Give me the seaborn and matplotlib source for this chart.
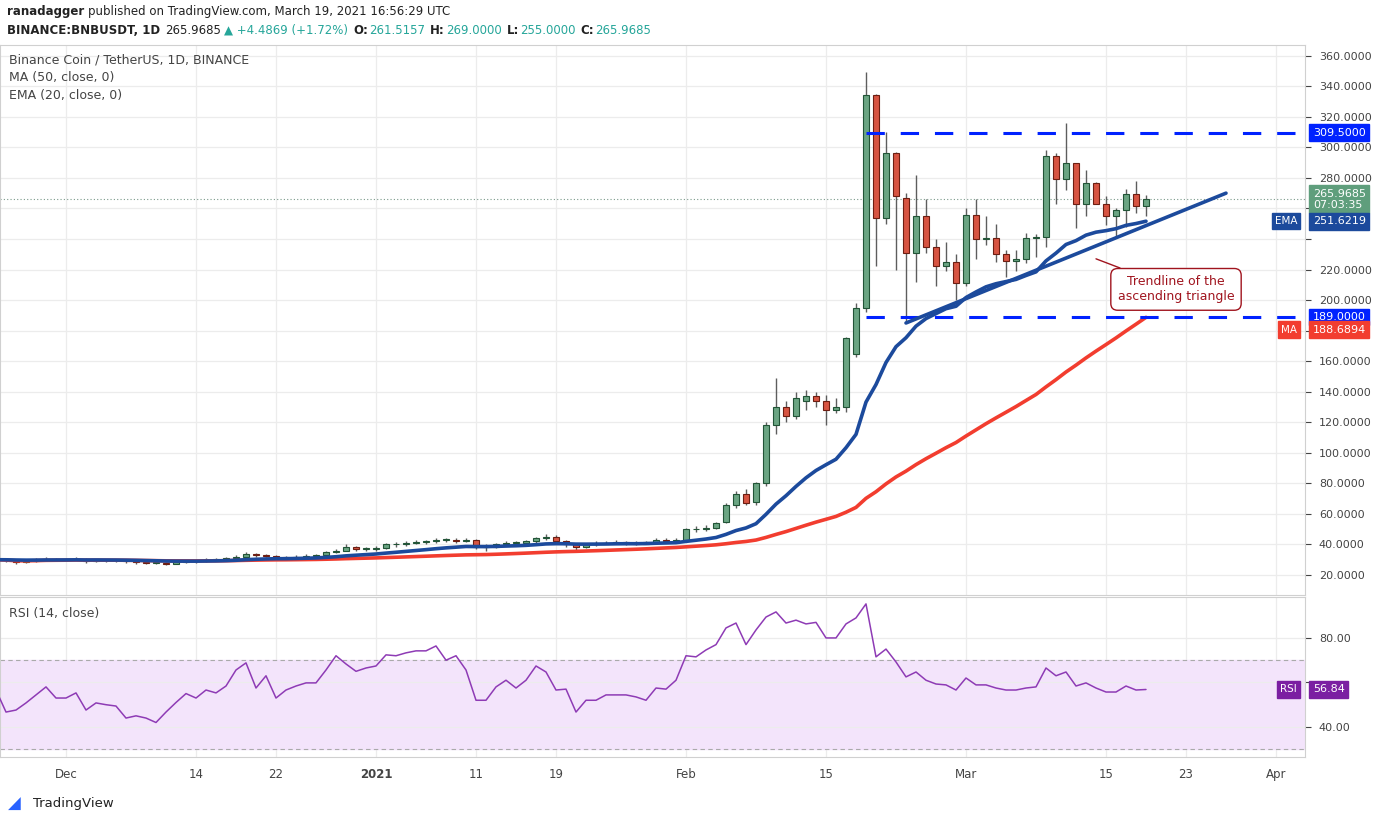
import numpy as np
import pandas as pd
import matplotlib
matplotlib.use("Agg")
import matplotlib.pyplot as plt
import matplotlib.dates as mdates
import seaborn as sns

sns.set_style("white")
plt.rcParams['font.family'] = ['DejaVu Sans']

# ---------------- data ----------------
start_date = "2020-11-24"
opens = [30, 30, 29.5, 28.5, 29, 30, 30.5,
         30, 30, 30.5, 29, 30, 29.5, 29.5, 29, 28.5, 28, 28, 27.5, 28.5, 29, 29, 30, 30, 31, 32, 33.5, 33, 32.5, 32, 31, 32, 32.5, 33, 35, 36, 38, 37,
         37, 37.5, 40, 40, 41, 41.5, 42, 43, 43, 42.5, 43, 38, 38.5, 40, 41, 41, 42, 44, 45, 42, 40, 38, 40, 40.5, 41, 41.5, 41, 40.5, 41.5, 43, 42.5,
         43, 50, 50, 51, 55, 66, 73, 68, 80, 118, 130, 124, 134, 137, 134, 128, 130, 165, 195, 334, 254, 296, 267, 231, 255, 235, 222, 225,
         211, 256, 240, 240.5, 230, 225.5, 227, 240.5, 241, 294, 279, 290, 263, 276.5, 263, 255, 259, 269.5, 261.5157]
closes = [30, 29.5, 28.5, 29, 30, 30.5, 30,
          30, 30.5, 29, 30, 29.5, 29.5, 29, 28.5, 28, 28, 27.5, 28.5, 29, 29, 30, 30, 31, 32, 33.5, 33, 32.5, 32, 31, 32, 32.5, 33, 35, 36, 38, 37, 37,
          37.5, 40, 40, 41, 41.5, 42, 43, 43, 42.5, 43, 38, 38.5, 40, 41, 41, 42, 44, 45, 42, 40, 38, 40, 40.5, 41, 41.5, 41, 40.5, 41.5, 43, 42.5, 43,
          50, 50, 51, 54, 66, 73, 67, 80, 118, 130, 124, 136, 137, 134, 128, 130, 175, 195, 334, 254, 296, 268, 231, 255, 235, 222, 225, 211,
          256, 240, 240.5, 230, 225.5, 227, 240.5, 241, 294, 279, 290, 263, 276.5, 263, 255, 259, 269.5, 261.5, 265.9685]
highs = [31, 30.5, 30, 30, 31, 31.5, 31,
         31, 31.5, 31, 30.5, 30.5, 30.5, 30, 29.5, 29, 29, 28.5, 29.5, 30, 30, 31, 31, 32, 33, 35, 34.5, 33.5, 33, 32.5, 33, 33.5, 34, 36, 37, 40, 39, 38,
         39, 41, 41.5, 42, 43, 43, 44.5, 44.5, 44, 44.5, 43.5, 40, 41, 42, 42.5, 43, 45, 47, 46, 43, 41, 41, 42, 42, 43, 42.5, 42, 42.5, 44, 44, 44,
         51, 52, 53, 55, 67, 75, 76, 81, 120, 149, 134, 140, 141, 140, 138, 136, 176, 198, 349, 335, 310, 297, 270, 282, 266, 240, 238, 230,
         260, 266, 255, 250, 233, 233, 244, 243, 298, 296, 316, 290, 285, 277, 268, 260.5, 272.5, 278, 269]
lows = [29, 28.5, 27.5, 28, 28.5, 29.5, 29,
        29, 29.5, 28, 28.5, 28.5, 28.5, 28, 27.5, 27, 27, 26.5, 27, 28, 28, 28.5, 29, 30, 31, 32.5, 32, 31.5, 31, 30, 30.5, 31.5, 32, 32.5, 34.5, 35.5, 36, 35.5,
        36, 37, 38.5, 39, 40, 40.5, 41, 41.5, 41, 41.5, 37, 36, 37.5, 39, 40, 40.5, 41, 43, 41, 38.5, 36.5, 37.5, 39, 40, 40, 39.5, 39.5, 40.5, 41.5, 41.5, 42,
        42, 48, 49, 50, 54, 64, 66, 66, 78, 112, 120, 122, 128, 130, 118, 126, 127, 163, 192, 222, 250, 220, 185, 212, 231, 209, 219, 200,
        209, 227, 236, 225, 215, 219, 224, 228, 235, 263, 272, 247, 255, 263, 249, 241, 248, 257, 255]
rsi = [56.6, 46.7, 47.6, 50.8, 54.4, 58, 53,
       53, 55.3, 47.6, 50.8, 50, 49.4, 44, 45, 44, 42, 46.7, 51, 55, 53, 56.6, 55.3, 58.4, 65.6, 68.8, 57.5, 63, 53, 56.6, 58.4, 59.8, 59.8, 65.6, 72, 68.3, 65, 66.5,
       67.4, 72.4, 72, 73.3, 74.2, 74.2, 76.4, 70, 72, 65.6, 52, 52, 58, 61, 57.5, 61, 67.4, 64.7, 56.6, 57, 46.7, 52, 52, 54.4, 54.4, 54.4, 53.5, 52, 57.5, 57, 61,
       72, 71.5, 74.6, 77, 84.5, 86.7, 77, 83.6, 89.4, 91.7, 86.7, 88, 86.3, 87, 80, 80, 86.3, 89, 95.3, 71.5, 75, 69.2, 62.5, 64.7, 61, 59.3, 58.9, 56.6,
       62, 58.9, 58.9, 57.5, 56.6, 56.6, 57.5, 58, 66.5, 63, 64.7, 58.4, 59.8, 57.5, 55.7, 55.7, 58.4, 56.6, 56.84]
price_ticks = [20, 40, 60, 80, 100, 120, 140, 160, 180, 200, 220, 240, 260, 280, 300, 320, 340, 360]
price_hidden = [180, 240, 260]
rsi_ticks = [40, 60, 80]
rsi_hidden = [60]
x_tick_dates = ["2020-12-01", "2020-12-14", "2020-12-22", "2021-01-01", "2021-01-11", "2021-01-19",
                "2021-02-01", "2021-02-15", "2021-03-01", "2021-03-15", "2021-03-23", "2021-04-01"]
x_tick_labels = ["Dec", "14", "22", "2021", "11", "19", "Feb", "15", "Mar", "15", "23", "Apr"]
resistance = 309.5
support = 189.0
trend_dates = ["2021-02-23", "2021-03-27"]
trend_values = [185.0, 270.0]
level_start = "2021-02-19"

dates = pd.date_range(start_date, periods=len(closes), freq="D")
df = pd.DataFrame({"date": dates, "open": opens, "high": highs, "low": lows, "close": closes, "rsi": rsi})
df["x"] = mdates.date2num(df["date"])
df["ema"] = df["close"].ewm(span=20, adjust=False).mean()
df["ma"] = df["close"].rolling(50, min_periods=1).mean()

GREEN, GREEN_E = "#6ba583", "#225437"
RED, RED_E = "#d75442", "#6d1e12"
EMA_C, MA_C = "#1c4a9c", "#f23d2f"
GRID = "#ececec"

fig = plt.figure(figsize=(13.76, 8.23), dpi=100)
axp = fig.add_axes([0.0, 1 - 595 / 823, 1305 / 1376, 550 / 823])
axr = fig.add_axes([0.0, 1 - 757 / 823, 1305 / 1376, 160 / 823], sharex=axp)

x0 = mdates.date2num(pd.Timestamp("2021-02-01")) - 68.6
x1 = x0 + 130.5
axp.set_xlim(x0, x1)
axp.set_ylim(6.9, 367)
axr.set_ylim(26.5, 98.4)

for ax in (axp, axr):
    ax.set_facecolor("white")
    for s in ax.spines.values():
        s.set_color("#d0d0d0")
        s.set_linewidth(0.8)
    ax.yaxis.tick_right()
    ax.tick_params(axis="y", length=4, colors="#444", labelsize=8, pad=6)
    ax.tick_params(axis="x", length=0)
    for d in x_tick_dates:
        ax.axvline(mdates.date2num(pd.Timestamp(d)), color=GRID, lw=0.9, zorder=0)

for t in price_ticks:
    axp.axhline(t, color=GRID, lw=0.9, zorder=0)
axp.set_yticks(price_ticks)
axp.set_yticklabels(["" if t in price_hidden else f"{t:.4f}" for t in price_ticks])
plt.setp(axp.get_xticklabels(), visible=False)

# candles
up = df["close"] >= df["open"]
for mask, fc, ec in ((up, GREEN, GREEN_E), (~up, RED, RED_E)):
    sub = df[mask]
    axp.vlines(sub["x"], sub["low"], sub["high"], color="#5d5d5d", lw=1, zorder=2)
    body = (sub["close"] - sub["open"]).abs().clip(lower=0.4)
    axp.bar(sub["x"], body, bottom=sub[["open", "close"]].min(axis=1), width=0.62,
            color=fc, edgecolor=ec, linewidth=0.8, zorder=3)

sns.lineplot(data=df, x="x", y="ma", ax=axp, color=MA_C, lw=2.6, zorder=4, legend=False)
sns.lineplot(data=df, x="x", y="ema", ax=axp, color=EMA_C, lw=2.6, zorder=4, legend=False)
axp.set_xlabel(""); axp.set_ylabel("")

# drawings
ls = mdates.date2num(pd.Timestamp(level_start))
for lv in (resistance, support):
    axp.plot([ls, x1], [lv, lv], color="#0022ff", lw=2.2, dashes=(6, 5.2), zorder=5)
tx = mdates.date2num(pd.to_datetime(trend_dates))
axp.plot(tx, trend_values, color=EMA_C, lw=2.6, zorder=5)
axp.axhline(closes[-1], color="#7a9a8a", lw=0.8, ls=(0, (1, 2)), zorder=1)

axp.annotate("Trendline of the\nascending triangle", xy=(mdates.date2num(pd.Timestamp("2021-03-14")), 227),
             xytext=(mdates.date2num(pd.Timestamp("2021-03-22")), 207), ha="center", va="center",
             color="#a0141e", fontsize=9,
             bbox=dict(boxstyle="round,pad=0.55", fc="white", ec="#a0141e", lw=1),
             arrowprops=dict(arrowstyle="-", color="#a0141e", lw=1, shrinkA=0, shrinkB=0), zorder=6)

def tag(ax, y, text, fc, tc="white", name=None):
    t = ax.get_yaxis_transform()
    ax.text(1.006, y, text, transform=t, ha="left", va="center", fontsize=8, color=tc,
            bbox=dict(boxstyle="square,pad=0.3", fc=fc, ec=fc), zorder=10, clip_on=False)
    if name:
        ax.text(0.994, y, name, transform=t, ha="right", va="center", fontsize=7.5, color="white",
                bbox=dict(boxstyle="square,pad=0.3", fc=fc, ec=fc), zorder=10, clip_on=False)

tag(axp, resistance, "309.5000", "#0022ff")
tag(axp, closes[-1], "265.9685\n07:03:35", "#5f9e7c")
tag(axp, df["ema"].iloc[-1], f"{df['ema'].iloc[-1]:.4f}", "#1c4a9c", name="EMA")
tag(axp, support, "189.0000", "#0022ff")
tag(axp, df["ma"].iloc[-1] - 8, f"{df['ma'].iloc[-1]:.4f}", "#f23d2f", name="MA")

axp.text(0.007, 0.972, "Binance Coin / TetherUS, 1D, BINANCE", transform=axp.transAxes, fontsize=9, color="#444", va="center")
axp.text(0.007, 0.940, "MA (50, close, 0)", transform=axp.transAxes, fontsize=9, color="#444", va="center")
axp.text(0.007, 0.908, "EMA (20, close, 0)", transform=axp.transAxes, fontsize=9, color="#444", va="center")

# RSI panel
axr.axhspan(30, 70, color="#f3e4fb", zorder=0)
axr.axhline(70, color="#aaaaaa", lw=0.8, ls=(0, (4, 3)), zorder=1)
axr.axhline(30, color="#aaaaaa", lw=0.8, ls=(0, (4, 3)), zorder=1)
for t in rsi_ticks:
    axr.axhline(t, color=GRID, lw=0.9, zorder=0.5)
sns.lineplot(data=df, x="x", y="rsi", ax=axr, color="#8e3bb5", lw=1.1, zorder=3, legend=False)
axr.set_xlabel(""); axr.set_ylabel("")
axr.set_yticks(rsi_ticks)
axr.set_yticklabels(["" if t in rsi_hidden else f"{t:.2f}" for t in rsi_ticks])
axr.text(0.007, 0.9, "RSI (14, close)", transform=axr.transAxes, fontsize=9, color="#444", va="center")
tag(axr, rsi[-1], "56.84", "#7b1fa2", name="RSI")

axr.set_xticks(mdates.date2num(pd.to_datetime(x_tick_dates)))
axr.set_xticklabels(x_tick_labels, fontsize=8.5, color="#444")
for lab in axr.get_xticklabels():
    if lab.get_text() == "2021":
        lab.set_fontweight("bold")
axr.tick_params(axis="x", pad=8)

# header (pieces chained left to right)
renderer = fig.canvas.get_renderer()
def chain(y_px, pieces, x_px=7):
    x = x_px
    for txt, color, bold, gap in pieces:
        t = fig.text(x / 1376, 1 - y_px / 823, txt, fontsize=8.5, color=color,
                     fontweight="bold" if bold else "normal", va="center")
        x += t.get_window_extent(renderer).width + gap

chain(12, [("ranadagger", "#222", True, 4),
           ("published on TradingView.com, March 19, 2021 16:56:29 UTC", "#222", False, 0)])
chain(30, [("BINANCE:BNBUSDT, 1D", "#222", True, 5),
           ("265.9685", "#222", False, 3),
           ("▲ +4.4869 (+1.72%)", "#26a69a", False, 5),
           ("O:", "#222", True, 1), ("261.5157", "#26a69a", False, 5),
           ("H:", "#222", True, 1), ("269.0000", "#26a69a", False, 5),
           ("L:", "#222", True, 1), ("255.0000", "#26a69a", False, 5),
           ("C:", "#222", True, 1), ("265.9685", "#26a69a", False, 0)])

fig.text(8 / 1376, 1 - 804 / 823, "◢", fontsize=12, color="#2962ff", va="center")
fig.text(33 / 1376, 1 - 804 / 823, "TradingView", fontsize=9.5, color="#222", va="center")

fig.savefig("out.png", dpi=100, facecolor="white")
